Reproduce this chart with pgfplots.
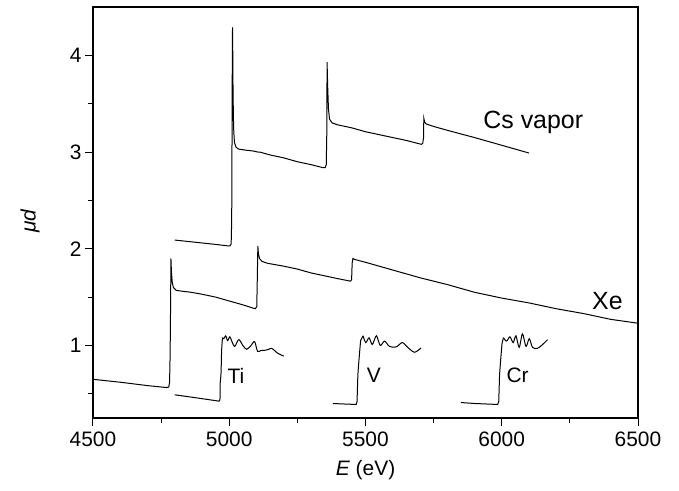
\documentclass[border=0pt]{standalone}
\usepackage{fontspec}
\setmainfont{Liberation Sans}
\usepackage{pgfplots}
\pgfplotsset{compat=1.18}
\begin{document}
\begin{tikzpicture}
\begin{axis}[name=ax, scale only axis, width=545bp, height=411bp,
  xmin=4500, xmax=6500, ymin=0.25, ymax=4.5,
  xtick={4500,5000,5500,6000,6500}, minor xtick={4750,5250,5750,6250},
  ytick={1,2,3,4}, minor ytick={0.5,1.5,2.5,3.5},
  tick align=outside, xtick pos=bottom, ytick pos=left,
  major tick length=8bp, minor tick length=5bp,
  every tick/.style={black, line width=1bp},
  axis line style={line width=1.2bp},
  /pgf/number format/assume math mode=true,
  /pgf/number format/1000 sep={},
  ticklabel style={font=\fontsize{21}{24}\selectfont},
  xticklabel style={yshift=-2bp},
  xlabel={\textit{E} (eV)}, ylabel={\textit{μd}},
  label style={font=\fontsize{21}{24}\selectfont},
  x label style={at={(axis description cs:0.5,-0.1265)}, anchor=center},
  y label style={at={(axis description cs:-0.1156,0.48)}, anchor=center},
  clip=false,
]
% Xe
\addplot[black, line width=1bp, mark=none] coordinates {
(4500,0.65) (4600,0.62) (4700,0.585) (4770,0.565) (4778,0.57) (4781,0.62) (4783,0.9) (4785,1.5) (4786,1.90) (4788,1.75) (4791,1.65) (4795,1.60) (4805,1.57) (4830,1.56) (4860,1.55) (4900,1.53) (4950,1.50) (5000,1.46) (5050,1.42) (5095,1.38) (5101,1.40) (5103,1.7) (5105,2.03) (5107,1.95) (5111,1.90) (5120,1.87) (5140,1.85) (5200,1.82) (5250,1.79) (5300,1.75) (5350,1.72) (5400,1.69) (5445,1.665) (5449,1.68) (5451,1.85) (5454,1.90) (5460,1.89) (5500,1.86) (5600,1.78) (5700,1.70) (5800,1.63) (5900,1.55) (6000,1.49) (6100,1.44) (6200,1.38) (6300,1.33) (6400,1.27) (6500,1.23)
};
% Cs vapor
\addplot[black, line width=1bp, mark=none] coordinates {
(4800,2.09) (4850,2.075) (4900,2.06) (4950,2.045) (4995,2.03) (5003,2.03) (5007,2.05) (5009,2.3) (5010,3.0) (5011,3.8) (5012,4.29) (5013,4.0) (5014,3.6) (5016,3.25) (5019,3.10) (5025,3.05) (5035,3.03) (5060,3.02) (5090,3.01) (5105,3.00) (5112,3.00) (5150,2.97) (5200,2.94) (5250,2.90) (5300,2.87) (5342,2.84) (5352,2.84) (5356,2.87) (5358,3.2) (5359,3.93) (5361,3.7) (5364,3.45) (5368,3.34) (5378,3.30) (5400,3.28) (5450,3.25) (5500,3.21) (5550,3.18) (5600,3.15) (5650,3.12) (5705,3.08) (5710,3.09) (5713,3.15) (5714,3.35) (5717,3.31) (5723,3.29) (5750,3.265) (5800,3.225) (5900,3.15) (6000,3.07) (6100,2.99)
};
% Ti
\addplot[black, line width=1bp, mark=none] coordinates {
(4800,0.49) (4850,0.47) (4900,0.45) (4963,0.424) (4966,0.44) (4967,0.62) (4969,0.68) (4970,0.72) (4972,0.95) (4975,1.08)
};
\addplot[black, line width=1bp, mark=none, smooth, tension=0.5] coordinates {
(4975,1.08) (4980,1.07) (4987,1.10) (4994,1.05) (5002,1.09) (5010,1.04) (5020,0.99) (5035,1.06) (5050,1.00) (5064,0.96) (5080,1.00) (5093,1.04) (5104,0.94) (5118,0.95) (5130,0.95) (5145,0.96) (5156,0.97) (5178,0.92) (5200,0.89)
};
% V
\addplot[black, line width=1bp, mark=none] coordinates {
(5380,0.40) (5420,0.395) (5466,0.39) (5469,0.42) (5472,0.70) (5476,0.85) (5482,1.05) (5491,1.10)
};
\addplot[black, line width=1bp, mark=none, smooth, tension=0.5] coordinates {
(5491,1.10) (5501,1.03) (5513,1.08) (5525,1.01) (5540,1.10) (5554,1.00) (5570,1.045) (5588,0.99) (5613,0.985) (5635,1.03) (5655,0.98) (5680,0.93) (5704,0.975)
};
% Cr
\addplot[black, line width=1bp, mark=none] coordinates {
(5850,0.41) (5900,0.40) (5985,0.39) (5989,0.42) (5992,0.70) (5996,0.85) (6001,1.02) (6006,1.08)
};
\addplot[black, line width=1bp, mark=none, smooth, tension=0.5] coordinates {
(6006,1.08) (6018,1.045) (6030,1.09) (6042,1.03) (6052,1.10) (6064,0.98) (6076,1.12) (6089,0.99) (6101,1.07) (6113,0.98) (6131,0.97) (6150,1.01) (6168,1.06)
};
\node[anchor=west, font=\fontsize{21}{24}\selectfont, inner sep=0pt] at (axis cs:4993,0.69) {Ti};
\node[anchor=west, font=\fontsize{21}{24}\selectfont, inner sep=0pt] at (axis cs:5504,0.69) {V};
\node[anchor=west, font=\fontsize{21}{24}\selectfont, inner sep=0pt] at (axis cs:6017,0.69) {Cr};
\node[anchor=west, font=\fontsize{25}{28}\selectfont, inner sep=0pt] at (axis cs:5932,3.31) {Cs vapor};
\node[anchor=west, font=\fontsize{25}{28}\selectfont, inner sep=0pt] at (axis cs:6331,1.455) {Xe};
\end{axis}
\pgfresetboundingbox
\path[use as bounding box] ([xshift=-93bp,yshift=-73bp]ax.south west) rectangle ([xshift=41bp,yshift=7bp]ax.north east);
\end{tikzpicture}
\end{document}
